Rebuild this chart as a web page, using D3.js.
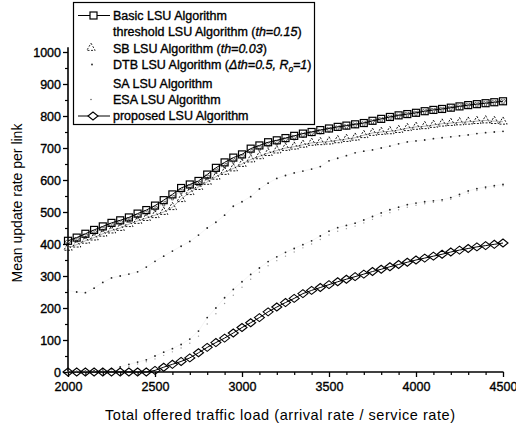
<!DOCTYPE html>
<html><head><meta charset="utf-8">
<script src="https://cdn.jsdelivr.net/npm/d3@7/dist/d3.min.js"></script>
<style>body{margin:0;background:#fff}text{font-family:"Liberation Sans",Arial,sans-serif}</style>
</head><body>
<svg id="chart" width="516" height="428"></svg>
<script>
const loads=[2000,2050,2100,2150,2200,2250,2300,2350,2400,2450,2500,2550,2600,2650,2700,2750,2800,2850,2900,2950,3000,3050,3100,3150,3200,3250,3300,3350,3400,3450,3500,3550,3600,3650,3700,3750,3800,3850,3900,3950,4000,4050,4100,4150,4200,4250,4300,4350,4400,4450,4500];
const basicLSU=[410,420,432,444,455,466,474,483,495,506,520,537,555,575,586,597,617,638,655,670,680,698,708,718,724,731,738,745,750,756,761,766,770,774,778,785,791,797,802,806,810,815,819,822,826,830,834,837,840,843,846];
const thresholdLSU=[405,414,425,436,447,458,467,476,487,498,511,527,546,566,579,590,609,629,646,661,673,690,701,711,718,726,733,741,746,752,758,763,767,772,776,783,789,795,800,805,809,814,818,821,825,829,833,836,839,842,845];
const sbLSU=[388,398,410,420,432,442,450,462,472,481,490,500,515,540,562,578,594,610,625,636,650,664,674,684,692,700,704,710,716,718,720,724,728,732,740,747,750,752,756,762,766,768,772,776,778,780,782,784,786,784,782];
const dtbLSU=[255,250,248,262,280,294,300,306,313,328,346,362,378,393,408,428,450,468,490,518,532,548,572,590,605,614,622,628,634,642,660,668,676,685,690,694,700,706,713,719,722,725,729,732,735,738,741,745,748,750,752];
const saLSU=[2,2,3,4,6,10,16,24,31,38,50,62,73,86,103,128,170,200,232,258,282,305,325,345,360,374,386,398,410,425,440,451,458,465,475,486,497,507,515,523,528,532,535,538,545,555,566,573,578,582,586];
const esaLSU=[1,1,2,2,4,7,12,18,25,32,41,52,63,75,90,112,150,182,214,240,265,290,312,332,348,362,375,388,400,414,428,440,448,456,466,477,488,498,507,515,521,526,530,534,540,549,559,567,573,578,582];
const proposedLSU=[0,0,0,0,0,0,0,0,0,0,5,15,24,33,44,60,77,92,106,122,139,154,170,188,203,217,230,245,255,264,273,282,290,298,306,314,321,329,336,343,350,356,362,368,375,381,386,391,395,399,403];
const xTicks=[2000,2500,3000,3500,4000,4500];
const xMinor=[2100,2200,2300,2400,2600,2700,2800,2900,3100,3200,3300,3400,3600,3700,3800,3900,4100,4200,4300,4400];
const yTicks=[0,100,200,300,400,500,600,700,800,900,1000];
const yMinor=[50,150,250,350,450,550,650,750,850,950];
const xTitle="Total offered traffic load (arrival rate / service rate)";
const yTitle="Mean update rate per link";

const svg=d3.select("#chart");
const x=d3.scaleLinear().domain([2000,4500]).range([68,503]);
const y=d3.scaleLinear().domain([0,1000]).range([372,52]);
const txtStyle=s=>s.attr("fill","#000").attr("stroke","#000").attr("stroke-width",0.35);

// axes
const gx=svg.append("g").attr("transform","translate(0,372)");
gx.call(d3.axisBottom(x).tickValues(xTicks).tickSize(5).tickPadding(5).tickFormat(d3.format("d")));
gx.select(".domain").remove();
gx.selectAll("text").attr("font-size",12.5).call(txtStyle);
gx.selectAll("line").attr("stroke-width",1.3);
const gxm=svg.append("g").attr("transform","translate(0,372)");
gxm.call(d3.axisBottom(x).tickValues(xMinor).tickSize(3).tickFormat(""));
gxm.select(".domain").remove();
gxm.selectAll("line").attr("stroke-width",1.2);

const gy=svg.append("g").attr("transform","translate(68,0)");
gy.call(d3.axisLeft(y).tickValues(yTicks).tickSize(5).tickPadding(2).tickFormat(d3.format("d")));
gy.select(".domain").remove();
gy.selectAll("text").attr("font-size",12.5).call(txtStyle);
gy.selectAll("line").attr("stroke-width",1.3);
const gym=svg.append("g").attr("transform","translate(68,0)");
gym.call(d3.axisLeft(y).tickValues(yMinor).tickSize(3).tickFormat(""));
gym.select(".domain").remove();
gym.selectAll("line").attr("stroke-width",1.2);

svg.append("line").attr("x1",68).attr("x2",68).attr("y1",y(1015)).attr("y2",372.5).attr("stroke","#000").attr("stroke-width",1.6);
svg.append("line").attr("x1",67.5).attr("x2",x(4500)+0.5).attr("y1",372).attr("y2",372).attr("stroke","#000").attr("stroke-width",1.6);

svg.append("text").attr("x",280).attr("y",420).attr("text-anchor","middle").attr("font-size",14.5)
  .attr("textLength",350).attr("lengthAdjust","spacing").text(xTitle);
svg.append("text").attr("transform","translate(22,203) rotate(-90)").attr("text-anchor","middle").attr("font-size",14).text(yTitle);

const pts=vals=>loads.map((l,i)=>[l,vals[i]]);
const line=d3.line().x(d=>x(d[0])).y(d=>y(d[1]));

// threshold: faint line with wye marks
svg.append("path").datum(pts(thresholdLSU)).attr("d",line).attr("fill","none").attr("stroke","#ccc").attr("stroke-width",0.6);
svg.append("g").selectAll("path").data(pts(thresholdLSU)).join("path")
  .attr("transform",d=>`translate(${x(d[0])},${y(d[1])})`)
  .attr("d",d3.symbol(d3.symbolWye,14)).attr("fill","none").attr("stroke","#333").attr("stroke-width",0.7);

// SB: triangles, broken strokes
svg.append("path").datum(pts(sbLSU)).attr("d",line).attr("fill","none").attr("stroke","#777").attr("stroke-width",0.6);
svg.append("g").selectAll("path").data(pts(sbLSU)).join("path")
  .attr("transform",d=>`translate(${x(d[0])},${y(d[1])})`)
  .attr("d",d3.symbol(d3.symbolTriangle,30)).attr("fill","none").attr("stroke","#000").attr("stroke-width",0.9).attr("stroke-dasharray","2,1.5");

// DTB, SA, ESA: sparse dots
const dots=(vals,col,r)=>svg.append("g").selectAll("circle").data(pts(vals)).join("circle")
  .attr("cx",d=>x(d[0])).attr("cy",d=>y(d[1])).attr("r",r).attr("fill",col);
svg.append("path").datum(pts(dtbLSU)).attr("d",line).attr("fill","none").attr("stroke","#eee").attr("stroke-width",0.6);
svg.append("path").datum(pts(saLSU)).attr("d",line).attr("fill","none").attr("stroke","#eee").attr("stroke-width",0.6);
dots(dtbLSU,"#222",0.9);
dots(saLSU,"#222",0.9);
dots(esaLSU,"#999",0.7);

// Basic: squares
svg.append("path").datum(pts(basicLSU)).attr("d",line).attr("fill","none").attr("stroke","#000").attr("stroke-width",1);
svg.append("g").selectAll("rect").data(pts(basicLSU)).join("rect")
  .attr("x",d=>x(d[0])-3.5).attr("y",d=>y(d[1])-3.5).attr("width",7).attr("height",7)
  .attr("fill","none").attr("stroke","#000").attr("stroke-width",1.2);

// proposed: diamonds
const diamond="M-5,0L0,-4L5,0L0,4Z";
svg.append("path").datum(pts(proposedLSU)).attr("d",line).attr("fill","none").attr("stroke","#000").attr("stroke-width",1);
svg.append("g").selectAll("path").data(pts(proposedLSU)).join("path")
  .attr("transform",d=>`translate(${x(d[0])},${y(d[1])})`)
  .attr("d",diamond).attr("fill","none").attr("stroke","#000").attr("stroke-width",1.1);

// legend
const lg=svg.append("g");
lg.append("rect").attr("x",73.5).attr("y",2.5).attr("width",241).attr("height",122).attr("fill","#fff").attr("stroke","#000").attr("stroke-width",1.2);
const legend=[
 {parts:[["Basic LSU Algorithm",0]],by:20},
 {parts:[["threshold LSU Algorithm (",0],["th=0.15",1],[")",0]],by:36},
 {parts:[["SB LSU Algorithm (",0],["th=0.03",1],[")",0]],by:52.5},
 {parts:[["DTB LSU Algorithm (",0],["Δth=0.5, R",1],["0",2],["=1",3],[")",0]],by:68.5},
 {parts:[["SA LSU Algorithm",0]],by:88},
 {parts:[["ESA LSU Algorithm",0]],by:104},
 {parts:[["proposed LSU Algorithm",0]],by:120}
];
legend.forEach(e=>{
  const t=lg.append("text").attr("x",113).attr("y",e.by).attr("font-size",12.5).call(txtStyle);
  e.parts.forEach(p=>{
    const ts=t.append("tspan").text(p[0]);
    if(p[1]>=1) ts.attr("font-style","italic");
    if(p[1]===2) ts.attr("font-size",8).attr("dy",3);
    if(p[1]===3) ts.attr("dy",-3);
  });
});
lg.append("line").attr("x1",78).attr("x2",110).attr("y1",15.5).attr("y2",15.5).attr("stroke","#000").attr("stroke-width",1);
lg.append("rect").attr("x",90).attr("y",12).attr("width",7).attr("height",7).attr("fill","#fff").attr("stroke","#000").attr("stroke-width",1.2);
lg.append("path").attr("transform","translate(91,48)").attr("d",d3.symbol(d3.symbolTriangle,30)).attr("fill","none").attr("stroke","#111").attr("stroke-width",0.9).attr("stroke-dasharray","2,1.5");
lg.append("circle").attr("cx",92).attr("cy",64.5).attr("r",0.9).attr("fill","#222");
lg.append("circle").attr("cx",91).attr("cy",99.5).attr("r",0.8).attr("fill","#666");
lg.append("line").attr("x1",78).attr("x2",110).attr("y1",116).attr("y2",116).attr("stroke","#000").attr("stroke-width",1);
lg.append("path").attr("transform","translate(93,116)").attr("d",diamond).attr("fill","#fff").attr("stroke","#000").attr("stroke-width",1.1);
</script></body></html>
